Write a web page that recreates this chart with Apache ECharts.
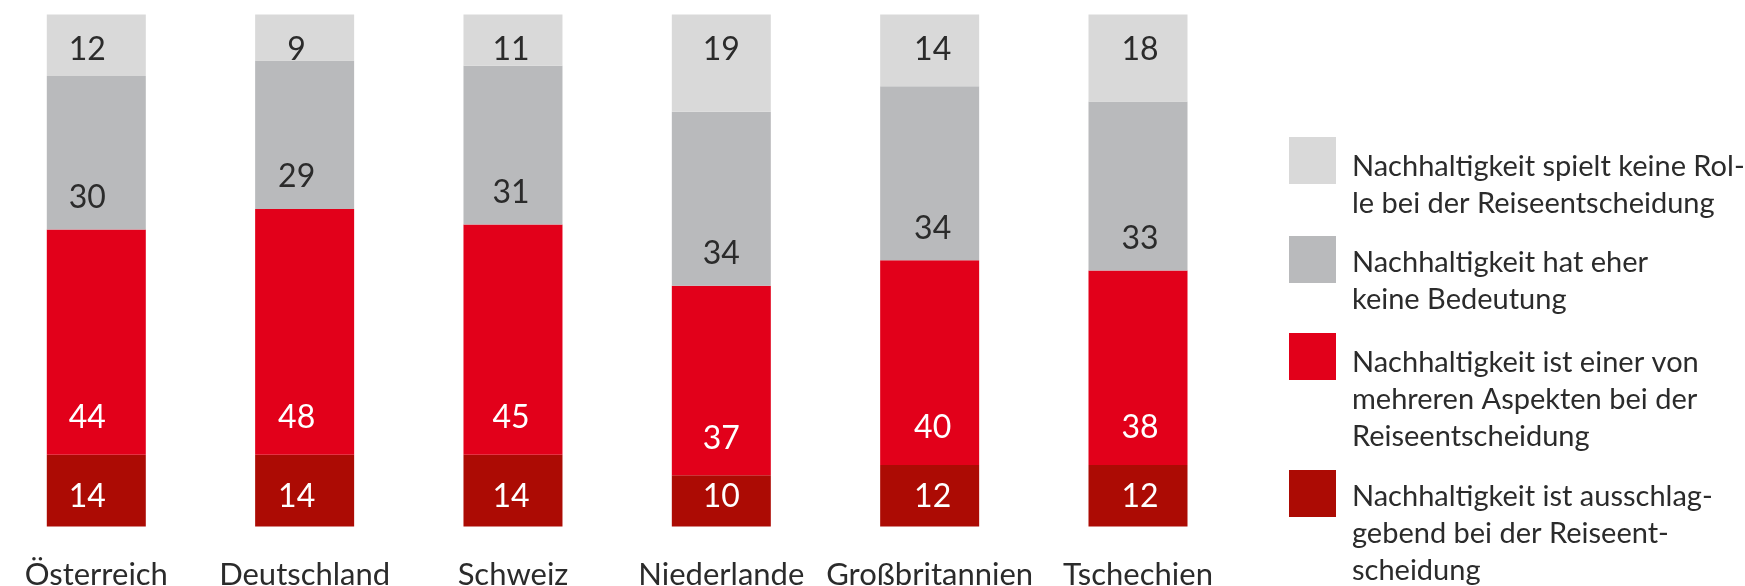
<!DOCTYPE html>
<html>
<head>
<meta charset="utf-8">
<script src="https://cdn.jsdelivr.net/npm/echarts@6/dist/echarts.min.js"></script>
<style>
html,body{margin:0;padding:0;background:#ffffff;}
#chart{width:1745px;height:586px;}
</style>
</head>
<body>
<div id="chart"></div>
<script>
// ---- data ----
const categories = ['Österreich', 'Deutschland', 'Schweiz', 'Niederlande', 'Großbritannien', 'Tschechien'];
const seriesNames = ['Ausschlaggebend', 'Einer von mehreren Aspekten', 'Eher keine Bedeutung', 'Keine Rolle'];
const legendLines = [
  ['Nachhaltigkeit ist ausschlag-', 'gebend bei der Reiseent-', 'scheidung'],
  ['Nachhaltigkeit ist einer von', 'mehreren Aspekten bei der', 'Reiseentscheidung'],
  ['Nachhaltigkeit hat eher', 'keine Bedeutung'],
  ['Nachhaltigkeit spielt keine Rol-', 'le bei der Reiseentscheidung']
];
const decisive = [14, 14, 14, 10, 12, 12];
const oneOfSeveral = [44, 48, 45, 37, 40, 38];
const ratherNoMeaning = [30, 29, 31, 34, 34, 33];
const noRole = [12, 9, 11, 19, 14, 18];

// ---- styles ----
const FONT = 'Lato';
const colors = ['#ac0b04', '#e2001a', '#b9babc', '#d9d9d9'];
const labelColors = ['#ffffff', '#ffffff', '#2b2b2b', '#2b2b2b'];
const labelPos = [
  {position: 'insideBottom', distance: 14},
  {position: 'insideBottom', distance: 21},
  {position: 'insideBottom', distance: 16},
  {position: 'insideTop', distance: 19}
];
const labelShift = [-9, -8, -2, 0, 3, 2];
const seriesData = [decisive, oneOfSeveral, ratherNoMeaning, noRole];
const legendTops = [397.5, 257.5, 200.5, 98.5];
const legendPadTop = [81, 87, 44, 50];

const chart = echarts.init(document.getElementById('chart'), null, {renderer: 'canvas'});

const series = seriesNames.map((name, i) => ({
  name: name,
  type: 'bar',
  stack: 'total',
  barWidth: 99,
  data: seriesData[i],
  itemStyle: {color: colors[i]},
  label: {
    show: true,
    position: labelPos[i].position,
    distance: labelPos[i].distance,
    color: labelColors[i],
    fontFamily: FONT,
    fontSize: 32,
    formatter: '{c}'
  },
  labelLayout: (p) => ({dx: labelShift[p.dataIndex]}),
  emphasis: {disabled: true}
}));

const legends = seriesNames.map((name, i) => ({
  data: [name],
  orient: 'vertical',
  left: 1289,
  top: legendTops[i],
  padding: 0,
  icon: 'rect',
  itemWidth: 47,
  itemHeight: 47,
  selectedMode: false,
  formatter: () => legendLines[i].map(l => '{a|' + l + '}').join('\n'),
  textStyle: {
    fontFamily: FONT,
    fontSize: 29,
    lineHeight: 37,
    color: '#2b2b2b',
    padding: [legendPadTop[i], 0, 0, 11],
    rich: {
      a: {fontFamily: FONT, fontSize: 29, lineHeight: 37, color: '#2b2b2b'}
    }
  }
}));

chart.setOption({
  animation: false,
  backgroundColor: '#ffffff',
  grid: {left: 96.3, top: 14.5, width: 1041.7, bottom: 59.5, containLabel: false, outerBoundsMode: 'none'},
  legend: legends,
  xAxis: {
    type: 'category',
    data: categories,
    boundaryGap: false,
    axisLine: {show: false},
    axisTick: {show: false},
    axisLabel: {
      color: '#2b2b2b',
      fontFamily: FONT,
      fontSize: 31,
      margin: 33,
      interval: 0
    }
  },
  yAxis: {
    type: 'value',
    min: 0,
    max: 100,
    show: false,
    splitLine: {show: false}
  },
  series: series
});
</script>
</body>
</html>
